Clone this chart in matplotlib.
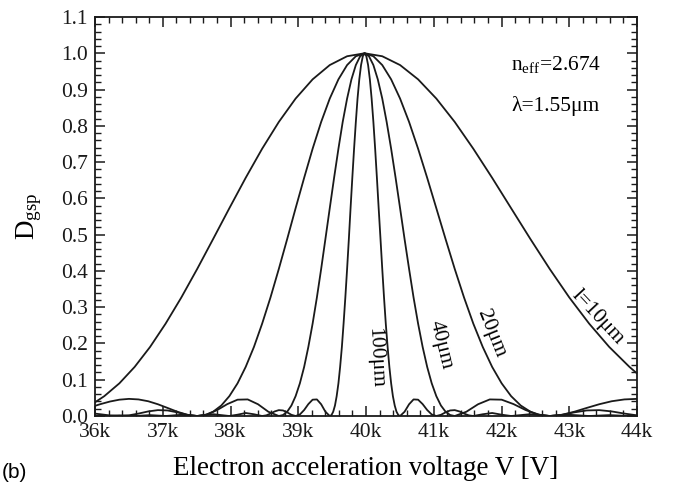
import matplotlib
matplotlib.use("Agg")
import matplotlib.pyplot as plt
from matplotlib.ticker import MultipleLocator, FuncFormatter

plt.rcParams['font.family'] = ['Liberation Serif', 'DejaVu Serif']
plt.rcParams['mathtext.fontset'] = 'custom'
plt.rcParams['mathtext.rm'] = 'Liberation Serif'
plt.rcParams['mathtext.it'] = 'Liberation Serif:italic'

# electron acceleration voltage (kV) and D_gsp, one pair per grating length

v_10um = [36.000, 36.137, 36.360, 36.585, 36.813, 37.042, 37.274, 37.508, 37.744, 37.983,
          38.224, 38.467, 38.713, 38.961, 39.212, 39.465, 39.721, 39.979, 40.240, 40.503,
          40.769, 41.038, 41.310, 41.584, 41.862, 42.142, 42.426, 42.712, 43.001, 43.294,
          43.590, 43.889, 44.000]
d_10um = [0.0378, 0.0547, 0.0901, 0.1353, 0.1904, 0.2546, 0.3267, 0.4053, 0.4881, 0.5728,
          0.6566, 0.7368, 0.8106, 0.8751, 0.9281, 0.9675, 0.9918, 1.0, 0.9918, 0.9675,
          0.9281, 0.8751, 0.8106, 0.7368, 0.6566, 0.5728, 0.4881, 0.4053, 0.3267, 0.2546,
          0.1904, 0.1353, 0.1174]

v_20um = [36.000, 36.082, 36.221, 36.360, 36.501, 36.642, 36.785, 36.928, 37.071, 37.216,
          37.362, 37.508, 37.626, 37.744, 37.864, 37.983, 38.104, 38.224, 38.346, 38.467,
          38.590, 38.713, 38.837, 38.961, 39.087, 39.212, 39.338, 39.465, 39.593, 39.721,
          39.850, 39.979, 40.109, 40.240, 40.371, 40.503, 40.636, 40.769, 40.903, 41.038,
          41.174, 41.310, 41.447, 41.584, 41.723, 41.862, 42.002, 42.142, 42.284, 42.426,
          42.569, 42.712, 42.893, 43.074, 43.257, 43.442, 43.627, 43.814, 44.000]
d_20um = [0.0280, 0.0328, 0.0399, 0.0450, 0.0472, 0.0457, 0.0407, 0.0324, 0.0222, 0.0117,
          0.0034, 0.0, 0.0027, 0.0119, 0.0289, 0.0547, 0.0901, 0.1353, 0.1904, 0.2546,
          0.3267, 0.4053, 0.4881, 0.5728, 0.6566, 0.7368, 0.8106, 0.8751, 0.9281, 0.9675,
          0.9918, 1.0, 0.9918, 0.9675, 0.9281, 0.8751, 0.8106, 0.7368, 0.6566, 0.5728,
          0.4881, 0.4053, 0.3267, 0.2546, 0.1904, 0.1353, 0.0901, 0.0547, 0.0289, 0.0119,
          0.0027, 0.0, 0.0034, 0.0117, 0.0222, 0.0324, 0.0407, 0.0457, 0.0472]

v_40um = [36.000, 36.082, 36.221, 36.360, 36.501, 36.642, 36.785, 36.928, 37.071, 37.216,
          37.362, 37.508, 37.656, 37.804, 37.953, 38.104, 38.254, 38.406, 38.559, 38.713,
          38.775, 38.837, 38.899, 38.961, 39.024, 39.087, 39.149, 39.212, 39.275, 39.338,
          39.401, 39.465, 39.529, 39.593, 39.656, 39.721, 39.785, 39.850, 39.914, 39.979,
          40.044, 40.109, 40.174, 40.240, 40.305, 40.371, 40.437, 40.503, 40.569, 40.636,
          40.702, 40.769, 40.836, 40.903, 40.970, 41.038, 41.106, 41.174, 41.242, 41.310,
          41.481, 41.654, 41.827, 42.002, 42.178, 42.355, 42.533, 42.712, 42.893, 43.074,
          43.257, 43.442, 43.627, 43.814, 44.000]
d_40um = [0.0066, 0.0048, 0.0015, 0.0, 0.0018, 0.0067, 0.0126, 0.0162, 0.0153, 0.0100,
          0.0033, 0.0, 0.0042, 0.0165, 0.0328, 0.0450, 0.0457, 0.0324, 0.0117, 0.0,
          0.0027, 0.0119, 0.0289, 0.0547, 0.0901, 0.1353, 0.1904, 0.2546, 0.3267, 0.4053,
          0.4881, 0.5728, 0.6566, 0.7368, 0.8106, 0.8751, 0.9281, 0.9675, 0.9918, 1.0,
          0.9918, 0.9675, 0.9281, 0.8751, 0.8106, 0.7368, 0.6566, 0.5728, 0.4881, 0.4053,
          0.3267, 0.2546, 0.1904, 0.1353, 0.0901, 0.0547, 0.0289, 0.0119, 0.0027, 0.0,
          0.0117, 0.0324, 0.0457, 0.0450, 0.0328, 0.0165, 0.0042, 0.0, 0.0033, 0.0100,
          0.0153, 0.0162, 0.0126, 0.0067, 0.0018]

v_100um = [36.000, 36.137, 36.360, 36.585, 36.813, 37.042, 37.274, 37.508, 37.744, 37.983,
           38.104, 38.224, 38.346, 38.467, 38.529, 38.590, 38.652, 38.713, 38.775, 38.837,
           38.899, 38.961, 39.024, 39.087, 39.149, 39.212, 39.275, 39.338, 39.401, 39.465,
           39.491, 39.516, 39.542, 39.567, 39.593, 39.618, 39.644, 39.669, 39.695, 39.721,
           39.747, 39.772, 39.798, 39.824, 39.850, 39.875, 39.901, 39.927, 39.953, 39.979,
           40.005, 40.031, 40.057, 40.083, 40.109, 40.135, 40.161, 40.187, 40.214, 40.240,
           40.266, 40.292, 40.319, 40.345, 40.371, 40.397, 40.424, 40.450, 40.477, 40.503,
           40.569, 40.636, 40.702, 40.769, 40.836, 40.903, 40.970, 41.038, 41.106, 41.174,
           41.242, 41.310, 41.379, 41.447, 41.516, 41.584, 41.723, 41.862, 42.002, 42.142,
           42.426, 42.712, 43.001, 43.294, 43.590, 43.889, 44.000]
d_100um = [0.0010, 0.0, 0.0018, 0.0, 0.0024, 0.0, 0.0033, 0.0, 0.0050, 0.0,
           0.0036, 0.0083, 0.0048, 0.0, 0.0018, 0.0067, 0.0126, 0.0162, 0.0153, 0.0100,
           0.0033, 0.0, 0.0042, 0.0165, 0.0328, 0.0450, 0.0457, 0.0324, 0.0117, 0.0,
           0.0027, 0.0119, 0.0289, 0.0547, 0.0901, 0.1353, 0.1904, 0.2546, 0.3267, 0.4053,
           0.4881, 0.5728, 0.6566, 0.7368, 0.8106, 0.8751, 0.9281, 0.9675, 0.9918, 1.0,
           0.9918, 0.9675, 0.9281, 0.8751, 0.8106, 0.7368, 0.6566, 0.5728, 0.4881, 0.4053,
           0.3267, 0.2546, 0.1904, 0.1353, 0.0901, 0.0547, 0.0289, 0.0119, 0.0027, 0.0,
           0.0117, 0.0324, 0.0457, 0.0450, 0.0328, 0.0165, 0.0042, 0.0, 0.0033, 0.0100,
           0.0153, 0.0162, 0.0126, 0.0067, 0.0018, 0.0, 0.0048, 0.0083, 0.0036, 0.0,
           0.0050, 0.0, 0.0033, 0.0, 0.0024, 0.0, 0.0006]

x_ticks = [36, 37, 38, 39, 40, 41, 42, 43, 44]
x_tick_labels = ["36k", "37k", "38k", "39k", "40k", "41k", "42k", "43k", "44k"]

line_color = "#1a1a1a"

fig = plt.figure(figsize=(6.74, 4.86), dpi=100)
ax = fig.add_axes([95 / 674, 70 / 486, 542 / 674, 399 / 486])

ax.plot(v_10um, d_10um, color=line_color, lw=1.3)
ax.plot(v_20um, d_20um, color=line_color, lw=1.3)
ax.plot(v_40um, d_40um, color=line_color, lw=1.3)
ax.plot(v_100um, d_100um, color=line_color, lw=1.3)

ax.set_xlim(36, 44)
ax.set_ylim(0, 1.1)
ax.set_xticks(x_ticks)
ax.set_xticklabels(x_tick_labels)
ax.xaxis.set_minor_locator(MultipleLocator(0.2))
ax.yaxis.set_major_locator(MultipleLocator(0.1))
ax.yaxis.set_minor_locator(MultipleLocator(0.02))
ax.yaxis.set_major_formatter(FuncFormatter(lambda v, p: "%.1f" % v))

ax.tick_params(which="both", direction="in", top=True, right=True, colors="#1a1a1a")
ax.tick_params(which="major", length=7, width=1.1, labelsize=15.5, pad=5)
ax.tick_params(which="minor", length=4, width=1.0)
for s in ax.spines.values():
    s.set_linewidth(1.3)
    s.set_color("#1a1a1a")

ax.set_xlabel("Electron acceleration voltage V [V]", fontsize=19.5, labelpad=10)
ax.set_ylabel(r"D$_{\mathregular{gsp}}$", fontsize=19.5, labelpad=12)

ax.text(42.14, 0.968, r"n$_{\mathregular{eff}}$=2.674", fontsize=15.5, va="center", ha="left")
ax.text(42.14, 0.856, "λ=1.55μm", fontsize=15.5, va="center", ha="left")

ax.text(43.42, 0.272, "l=10μm", fontsize=15.5, rotation=-47, ha="center", va="center")
ax.text(41.84, 0.226, "20μm", fontsize=15.5, rotation=-68, ha="center", va="center")
ax.text(41.10, 0.196, "40μm", fontsize=15.5, rotation=-76, ha="center", va="center")
ax.text(40.13, 0.160, "100μm", fontsize=15.5, rotation=-87, ha="center", va="center")

fig.text(0.003, 0.008, "(b)", fontsize=15, family="Liberation Sans", ha="left", va="bottom")

fig.savefig("out.png", dpi=100)
